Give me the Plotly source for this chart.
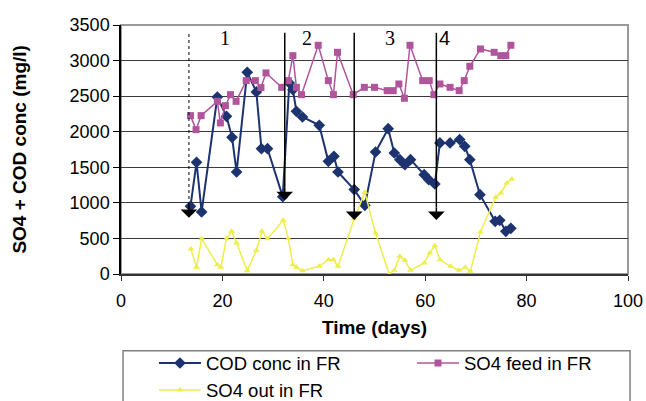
import plotly.graph_objects as go

# ---- data ----
cod_days = [13.7, 14.9, 15.9, 19.0, 20.8, 21.9, 22.8, 24.9, 26.7, 27.7, 28.9, 31.9,
            33.2, 33.9, 34.6, 35.8, 39.1, 40.9, 42.0, 42.8, 46.0, 48.1, 50.2, 52.7,
            53.9, 55.0, 56.0, 57.1, 59.8, 60.7, 61.9, 62.9, 64.9, 66.8, 67.8, 68.8,
            70.8, 73.8, 74.7, 75.9, 76.9]
cod_vals = [951, 1570, 872, 2488, 2217, 1921, 1434, 2835, 2559, 1762, 1762, 1087,
            2685, 2591, 2287, 2207, 2090, 1584, 1654, 1434, 1186, 965, 1715, 2043,
            1701, 1607, 1537, 1607, 1396, 1326, 1265, 1842, 1842, 1889, 1795, 1607,
            1115, 740, 754, 600, 642]

feed_days = [13.7, 14.8, 15.8, 19.0, 19.6, 20.6, 21.6, 22.7, 24.7, 26.5, 27.6, 28.6,
             31.7, 33.0, 33.9, 34.6, 35.6, 38.9, 40.9, 41.9, 42.7, 45.8, 48.0, 50.0,
             52.5, 53.7, 54.8, 55.9, 57.0, 59.5, 60.8, 61.7, 62.9, 64.9, 66.7, 67.7,
             68.8, 70.9, 73.6, 74.9, 75.9, 76.9]
feed_vals = [2226, 2029, 2226, 2427, 2123, 2366, 2521, 2427, 2718, 2718, 2620, 2826,
             2624, 2718, 3069, 2624, 2521, 3215, 2718, 2521, 3116, 2521, 2624, 2624,
             2577, 2577, 2671, 2470, 3215, 2718, 2718, 2521, 2671, 2624, 2577, 2718,
             2920, 3163, 3116, 3069, 3069, 3215]

out_days = [13.8, 14.9, 15.9, 19.0, 19.7, 20.8, 21.8, 22.8, 24.9, 26.7, 27.8, 28.9,
            32.0, 33.0, 33.9, 34.6, 35.8, 39.1, 40.9, 41.9, 42.8, 46.0, 48.1, 50.2,
            52.9, 53.9, 55.0, 56.0, 57.1, 59.8, 60.9, 61.9, 62.9, 65.0, 66.7, 67.9,
            68.9, 70.9, 73.9, 74.9, 76.1, 77.1]
out_vals = [351, 94, 497, 131, 94, 497, 600, 436, 47, 333, 600, 497,
            754, 497, 131, 94, 47, 108, 201, 201, 108, 778, 1148, 576,
            0, 52, 248, 192, 52, 155, 295, 398, 201, 108, 52, 94,
            37, 590, 1078, 1139, 1279, 1336]

series_names = ["COD conc in FR", "SO4 feed in FR", "SO4 out in FR"]

# phase markers
marker_days = [13.4, 32.3, 46.0, 62.2]
marker_tips = [790, 1040, 760, 760]
marker_top = 3390
phase_labels = ["1", "2", "3", "4"]
phase_label_days = [20.5, 36.7, 53.1, 63.9]
phase_label_val = 3320

x_ticks = [0, 20, 40, 60, 80, 100]
y_ticks = [0, 500, 1000, 1500, 2000, 2500, 3000, 3500]

BLUE = "#1c3370"
PINK = "#b0559c"
YELLOW = "#eeee48"
FONT = "Liberation Sans, Arial, sans-serif"

fig = go.Figure()
fig.add_trace(go.Scatter(x=cod_days, y=cod_vals, name=series_names[0], mode="lines+markers",
                         line=dict(color=BLUE, width=2), legend="legend",
                         marker=dict(symbol="diamond", size=9, color=BLUE)))
fig.add_trace(go.Scatter(x=feed_days, y=feed_vals, name=series_names[1], mode="lines+markers",
                         line=dict(color=PINK, width=1.5), legend="legend2",
                         marker=dict(symbol="square", size=7, color=PINK)))
fig.add_trace(go.Scatter(x=out_days, y=out_vals, name=series_names[2], mode="lines+markers",
                         line=dict(color=YELLOW, width=1.5), legend="legend",
                         marker=dict(symbol="triangle-up", size=6, color=YELLOW)))

shapes = [dict(type="rect", xref="paper", yref="paper", x0=0, x1=1, y0=0, y1=1,
               line=dict(color="#9a9a9a", width=2), layer="below"),
          dict(type="rect", xref="paper", yref="paper", x0=0.004, x1=1.004, y0=-0.308, y1=-0.56,
               line=dict(color="#808080", width=1.5))]
annotations = []
for i, (d, tip) in enumerate(zip(marker_days, marker_tips)):
    head_top = tip + 180
    shapes.append(dict(type="line", xref="x", yref="y", x0=d, x1=d, y0=head_top, y1=marker_top,
                       line=dict(color="black", width=1.5 if i else 1, dash="dot" if i == 0 else "solid")))
    annotations.append(dict(x=d, y=tip, ax=d, ay=head_top + 20, xref="x", yref="y", axref="x", ayref="y",
                            text="", showarrow=True, arrowhead=1, arrowsize=1.85, arrowwidth=1.5,
                            arrowcolor="black", standoff=0))
for lab, d in zip(phase_labels, phase_label_days):
    annotations.append(dict(x=d, y=phase_label_val, xref="x", yref="y", text=lab, showarrow=False,
                            font=dict(family=FONT if lab == "4" else "Liberation Serif, Times New Roman, serif",
                                      size=20, color="black")))
annotations.append(dict(x=-0.201, y=0.5, xref="paper", yref="paper", text="<b>SO4 + COD conc (mg/l)</b>",
                        textangle=-90, showarrow=False, xanchor="center", yanchor="middle",
                        font=dict(family=FONT, size=19, color="black")))

legend_common = dict(orientation="v", xanchor="left", yanchor="top",
                     font=dict(size=18.5, family=FONT), bgcolor="rgba(0,0,0,0)",
                     tracegroupgap=0, itemwidth=42, borderwidth=0)

fig.update_layout(
    width=646, height=401,
    margin=dict(l=121, r=18, t=25, b=127, autoexpand=False),
    paper_bgcolor="white", plot_bgcolor="white",
    font=dict(family=FONT, size=18, color="black"),
    shapes=shapes, annotations=annotations,
    showlegend=True,
    legend=dict(x=0.065, y=-0.283, **legend_common),
    legend2=dict(x=0.574, y=-0.283, **legend_common),
)
fig.update_xaxes(range=[0, 100], tickvals=x_ticks, showgrid=False, zeroline=False,
                 showline=True, linecolor="#333333", linewidth=1.5,
                 ticks="outside", ticklen=5, tickcolor="#333333", ticklabelstandoff=5,
                 title=dict(text="<b>Time (days)</b>", font=dict(size=19), standoff=10))
fig.update_yaxes(range=[0, 3500], tickvals=y_ticks, showgrid=True, gridcolor="#3a3a3a", gridwidth=1,
                 zeroline=False, showline=True, linecolor="black", linewidth=1.5,
                 ticks="outside", ticklen=6, tickcolor="black")

fig.write_html("out.html")
